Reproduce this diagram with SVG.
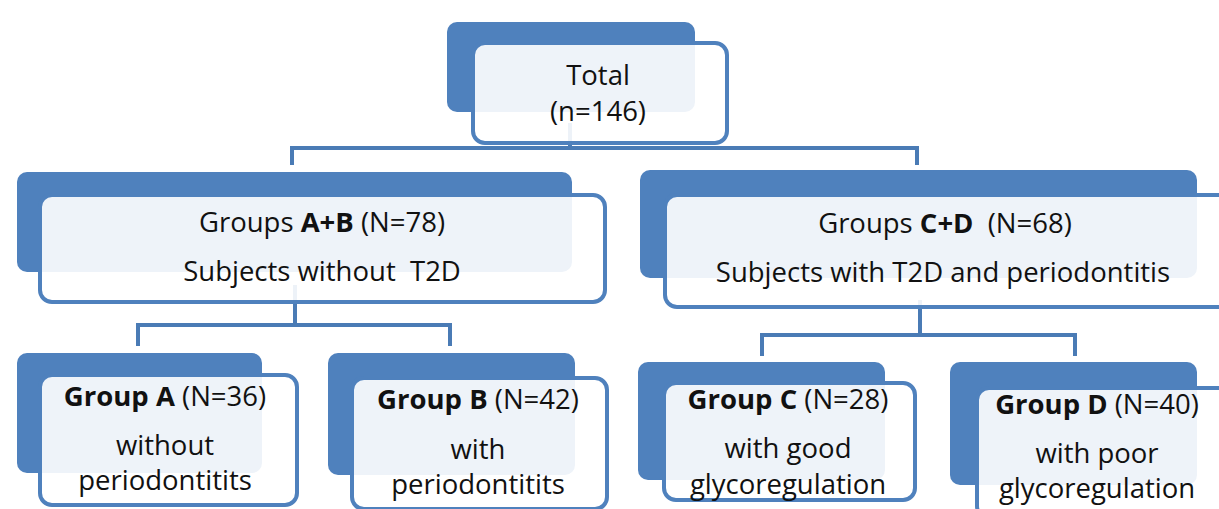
<svg xmlns="http://www.w3.org/2000/svg" width="1219" height="509" viewBox="0 0 1219 509">
<style>
.back{fill:#4F81BD}
.front{fill:#ffffff;fill-opacity:0.9;stroke:#4F81BD;stroke-width:4}
.con{fill:none;stroke:#4A7BB5;stroke-width:4}
text{font-family:"Open Sans","Liberation Sans",sans-serif;font-size:27.5px;fill:#111;text-anchor:middle}
.b{font-weight:bold}
</style>
<rect width="1219" height="509" fill="#ffffff"/>
<g id="connectors">
<path class="con" d="M570,123 V148 M292,165 V148 H917 V165"/>
<path class="con" d="M295,285 V325 M138,346 V325 H450 V346"/>
<path class="con" d="M920,300 V335 M762,356 V335 H1075 V356"/>
</g>
<g id="total">
<rect class="back" x="447" y="22" width="248" height="90" rx="10"/>
<rect class="front" x="473" y="43" width="254" height="100" rx="12"/>
<text x="598" y="85">Total</text>
<text x="598" y="121">(n=146)</text>
</g>
<g id="ab">
<rect class="back" x="17" y="172" width="555" height="100" rx="10"/>
<rect class="front" x="40" y="195" width="565" height="107" rx="12"/>
<text x="322" y="232">Groups <tspan class="b">A+B</tspan> (N=78)</text>
<text x="322" y="281">Subjects without &#160;T2D</text>
</g>
<g id="cd">
<rect class="back" x="640" y="170" width="557" height="108" rx="10"/>
<rect class="front" x="665" y="195" width="570" height="112" rx="12"/>
<text x="945" y="233">Groups <tspan class="b">C+D</tspan> &#160;(N=68)</text>
<text x="943" y="282">Subjects with T2D and periodontitis</text>
</g>
<g id="a">
<rect class="back" x="17" y="353" width="245" height="120" rx="10"/>
<rect class="front" x="40" y="375" width="257" height="130" rx="12"/>
<text x="165" y="406"><tspan class="b">Group A</tspan> (N=36)</text>
<text x="165" y="455">without</text>
<text x="165" y="490">periodontitits</text>
</g>
<g id="b">
<rect class="back" x="328" y="353" width="247" height="122" rx="10"/>
<rect class="front" x="352" y="378" width="255" height="131" rx="12"/>
<text x="478" y="409"><tspan class="b">Group B</tspan> (N=42)</text>
<text x="478" y="459">with</text>
<text x="478" y="494">periodontitits</text>
</g>
<g id="c">
<rect class="back" x="638" y="362" width="247" height="118" rx="10"/>
<rect class="front" x="664" y="383" width="251" height="117" rx="12"/>
<text x="788" y="409"><tspan class="b">Group C</tspan> (N=28)</text>
<text x="788" y="458">with good</text>
<text x="788" y="494">glycoregulation</text>
</g>
<g id="d">
<rect class="back" x="950" y="362" width="247" height="123" rx="10"/>
<rect class="front" x="977" y="388" width="260" height="130" rx="12"/>
<text x="1097" y="414"><tspan class="b">Group D</tspan> (N=40)</text>
<text x="1097" y="463">with poor</text>
<text x="1097" y="498">glycoregulation</text>
</g>
</svg>
